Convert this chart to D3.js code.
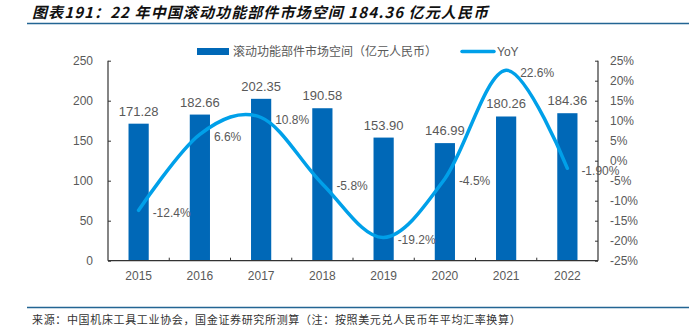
<!DOCTYPE html>
<html>
<head>
<meta charset="utf-8">
<script src="https://cdn.jsdelivr.net/npm/d3@7"></script>
<style>
  html, body { margin: 0; padding: 0; background: #fff; }
  svg { display: block; }
</style>
</head>
<body>
<svg id="chart" width="689" height="327"></svg>
<script>
// ---- data ----
const years = ["2015", "2016", "2017", "2018", "2019", "2020", "2021", "2022"];
const marketSize = [171.28, 182.66, 202.35, 190.58, 153.90, 146.99, 180.26, 184.36];
const marketLabels = ["171.28", "182.66", "202.35", "190.58", "153.90", "146.99", "180.26", "184.36"];
const yoy = [-12.4, 6.6, 10.8, -5.8, -19.2, -4.5, 22.6, -1.9];
const yoyLabels = ["-12.4%", "6.6%", "10.8%", "-5.8%", "-19.2%", "-4.5%", "22.6%", "-1.90%"];
const leftTicks = [0, 50, 100, 150, 200, 250];
const rightTicks = [-25, -20, -15, -10, -5, 0, 5, 10, 15, 20, 25];
const titleText = "图表191：22 年中国滚动功能部件市场空间 184.36 亿元人民币";
const sourceText = "来源：中国机床工具工业协会，国金证券研究所测算（注：按照美元兑人民币年平均汇率换算）";
const legendBar = "滚动功能部件市场空间（亿元人民币）";
const legendLine = "YoY";

// ---- layout ----
const svg = d3.select("#chart");
const L = 108, R = 598, T = 60.7, B = 260.7;
const barColor = "#0068B7", lineColor = "#00A0E9", textColor = "#595959", axisColor = "#333";
const latin = "'Liberation Sans', Arial, sans-serif";
const cjk = "'Noto Sans CJK SC', 'Liberation Sans', sans-serif";

const x = d3.scaleBand().domain(years).range([L, R]).padding(0);
const yL = d3.scaleLinear().domain([0, 250]).range([B, T]);
const yR = d3.scaleLinear().domain([-25, 25]).range([B, T]);
const barW = x.bandwidth() * 0.33;
const cx = d => x(d) + x.bandwidth() / 2;

// title
svg.append("text")
  .attr("x", 32).attr("y", 18)
  .attr("font-family", cjk).attr("font-size", 15).attr("font-weight", "bold")
  .attr("font-style", "italic").attr("letter-spacing", 1.1).attr("fill", "#111")
  .text(titleText);
svg.append("line").attr("x1", 27).attr("x2", 689).attr("y1", 23.5).attr("y2", 23.5)
  .attr("stroke", "#236593").attr("stroke-width", 1.5);

// bottom rule + source
svg.append("line").attr("x1", 27).attr("x2", 689).attr("y1", 307.5).attr("y2", 307.5)
  .attr("stroke", "#236593").attr("stroke-width", 1.5);
svg.append("text")
  .attr("x", 32).attr("y", 324)
  .attr("font-family", cjk).attr("font-size", 11).attr("letter-spacing", 0.65)
  .attr("fill", "#333").text(sourceText);

// bars
svg.append("g").selectAll("rect").data(years).join("rect")
  .attr("x", (d) => cx(d) - barW / 2)
  .attr("y", (d, i) => yL(marketSize[i]))
  .attr("width", barW)
  .attr("height", (d, i) => yL(0) - yL(marketSize[i]))
  .attr("fill", barColor);

// bar labels
svg.append("g").selectAll("text").data(years).join("text")
  .attr("x", d => cx(d))
  .attr("y", (d, i) => yL(marketSize[i]) - 8)
  .attr("text-anchor", "middle")
  .attr("font-family", latin).attr("font-size", 13).attr("fill", textColor)
  .text((d, i) => marketLabels[i]);

// axes
const axL = d3.axisLeft(yL).tickValues(leftTicks).tickSize(-3).tickPadding(15);
const gL = svg.append("g").attr("transform", `translate(${L},0)`).call(axL);
const axR = d3.axisRight(yR).tickValues(rightTicks).tickSize(-3).tickPadding(12)
  .tickFormat(d => d + "%");
const gR = svg.append("g").attr("transform", `translate(${R},0)`).call(axR);
const axB = d3.axisBottom(x).tickSize(0).tickPadding(11);
const gB = svg.append("g").attr("transform", `translate(0,${B})`).call(axB);
// category boundary ticks on the x axis
svg.append("g").selectAll("line").data(years.slice(1)).join("line")
  .attr("x1", d => x(d)).attr("x2", d => x(d))
  .attr("y1", B).attr("y2", B - 3)
  .attr("stroke", axisColor);

[gL, gR, gB].forEach(g => {
  g.select(".domain").attr("stroke", axisColor).attr("stroke-width", 1.2);
  g.selectAll(".tick line").attr("stroke", axisColor);
  g.selectAll(".tick text").attr("fill", textColor)
    .attr("font-family", latin).attr("font-size", 12);
});
gL.select(".domain").attr("d", `M0,${T}V${B}`);
gR.select(".domain").attr("d", `M0,${T}V${B}`);
gB.select(".domain").attr("d", `M${L},0H${R}`);

// YoY line
const line = d3.line()
  .x((d, i) => cx(years[i]))
  .y(d => yR(d))
  .curve(d3.curveCardinal.tension(0));
svg.append("path").datum(yoy)
  .attr("d", line)
  .attr("fill", "none").attr("stroke", lineColor)
  .attr("stroke-width", 3.5).attr("stroke-linecap", "round");

// YoY labels
svg.append("g").selectAll("text").data(years).join("text")
  .attr("x", d => cx(d) + 14)
  .attr("y", (d, i) => yR(yoy[i]) + 2)
  .attr("dy", "0.35em")
  .attr("font-family", latin).attr("font-size", 12).attr("fill", textColor)
  .text((d, i) => yoyLabels[i]);

// legend
svg.append("rect").attr("x", 197).attr("y", 48).attr("width", 32).attr("height", 7)
  .attr("fill", barColor);
svg.append("text").attr("x", 233).attr("y", 52).attr("dy", "0.35em")
  .attr("font-family", cjk).attr("font-size", 12).attr("fill", textColor)
  .text(legendBar);
svg.append("line").attr("x1", 462).attr("x2", 494).attr("y1", 51.5).attr("y2", 51.5)
  .attr("stroke", lineColor).attr("stroke-width", 3.5).attr("stroke-linecap", "round");
svg.append("text").attr("x", 497).attr("y", 52).attr("dy", "0.35em")
  .attr("font-family", latin).attr("font-size", 12).attr("fill", textColor)
  .text(legendLine);
</script>
</body>
</html>
